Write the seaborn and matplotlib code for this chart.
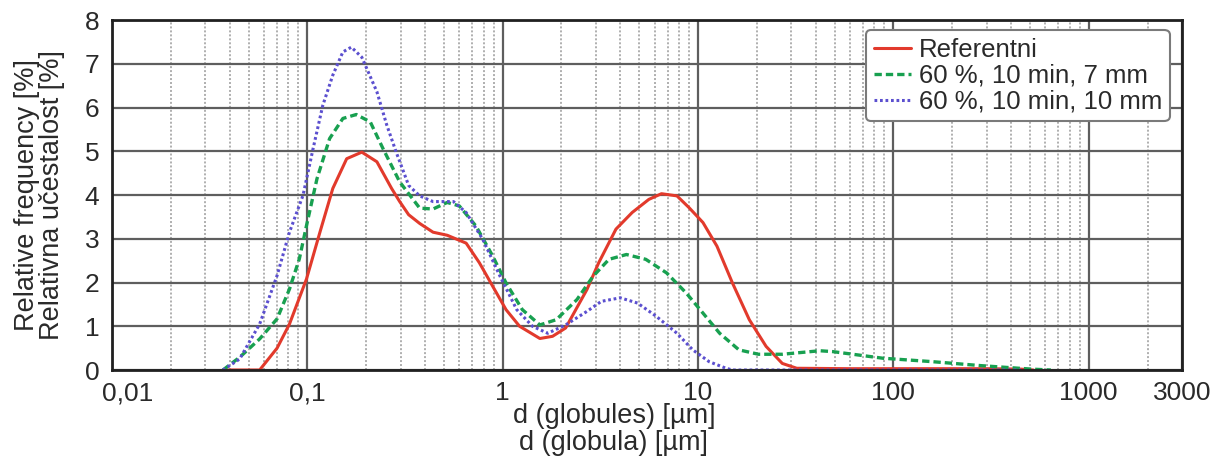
import numpy as np
import pandas as pd
import matplotlib
matplotlib.use("Agg")
import matplotlib.pyplot as plt
import matplotlib.transforms as mtransforms
from matplotlib.ticker import LogLocator, NullFormatter, FixedLocator, FixedFormatter
import seaborn as sns

# Droplet size distributions (diameter in µm, relative frequency in %)
d_ref = [0.037, 0.057, 0.070, 0.081, 0.099, 0.116, 0.135, 0.159, 0.19, 0.227, 0.27,
         0.297, 0.33, 0.376, 0.44, 0.52, 0.65, 0.76, 0.89, 1.04, 1.22, 1.55, 1.8,
         2.1, 2.7, 3.1, 3.8, 4.6, 5.6, 6.5, 7.8, 9.0, 10.6, 12.5, 15.0, 18.3, 22.3,
         27.0, 32.0, 60.0, 150.0, 300.0, 450.0, 520.0]
f_ref = [0.0, 0.0, 0.5, 1.05, 2.08, 3.15, 4.15, 4.83, 4.98, 4.76, 4.15,
         3.85, 3.55, 3.35, 3.15, 3.08, 2.9, 2.45, 1.91, 1.38, 1.0, 0.72, 0.77,
         0.96, 1.84, 2.45, 3.22, 3.6, 3.9, 4.03, 3.98, 3.71, 3.37, 2.83, 1.99, 1.15, 0.54,
         0.15, 0.04, 0.03, 0.03, 0.03, 0.02, 0.0]

d_7mm = [0.037, 0.045, 0.057, 0.070, 0.081, 0.091, 0.099, 0.112, 0.13, 0.152, 0.178,
         0.21, 0.244, 0.297, 0.376, 0.44, 0.52, 0.6, 0.73, 0.89, 1.04, 1.26, 1.55,
         1.88, 2.4, 2.9, 3.5, 4.3, 5.4, 6.9, 8.7, 10.6, 12.9, 16.2, 20.4, 27.0, 42.0,
         49.0, 88.0, 159.0, 280.0, 510.0, 640.0]
f_7mm = [0.0, 0.29, 0.71, 1.17, 1.85, 2.54, 3.3, 4.37, 5.29, 5.75, 5.84,
         5.67, 5.06, 4.3, 3.7, 3.68, 3.83, 3.75, 3.29, 2.6, 1.99, 1.38, 1.03,
         1.15, 1.61, 2.14, 2.53, 2.64, 2.53, 2.22, 1.76, 1.3, 0.84, 0.46, 0.36, 0.36, 0.44,
         0.42, 0.27, 0.19, 0.1, 0.02, 0.0]

d_10mm = [0.037, 0.045, 0.057, 0.070, 0.081, 0.095, 0.107, 0.12, 0.135, 0.152, 0.168,
          0.19, 0.227, 0.255, 0.285, 0.33, 0.376, 0.44, 0.56, 0.65, 0.79, 0.97, 1.18,
          1.42, 1.7, 2.1, 2.7, 3.2, 4.0, 4.9, 6.1, 7.8, 9.4, 11.4, 13.9, 15.0, 100.0, 450.0]
f_10mm = [0.0, 0.25, 1.05, 2.16, 3.15, 3.99, 5.06, 6.05, 6.74, 7.27, 7.38,
          7.15, 6.36, 5.6, 4.98, 4.22, 3.98, 3.85, 3.85, 3.6, 2.99, 2.14, 1.38,
          1.0, 0.84, 1.03, 1.34, 1.57, 1.65, 1.53, 1.23, 0.84, 0.46, 0.19, 0.04, 0.0, 0.0, 0.0]

series_names = ["Referentni", "60 %, 10 min, 7 mm", "60 %, 10 min, 10 mm"]
x_ticks = [0.01, 0.1, 1, 10, 100, 1000, 3000]
x_tick_labels = ["0,01", "0,1", "1", "10", "100", "1000", "3000"]
y_ticks = [0, 1, 2, 3, 4, 5, 6, 7, 8]

sns.set_theme(style="white")
plt.rcParams["font.family"] = ["Liberation Sans", "DejaVu Sans"]

fig = plt.figure(figsize=(12.2, 4.68), dpi=100)
ax = fig.add_axes([0.0918, 0.2094, 0.877, 0.7478])

styles = [
    dict(color="#e23a2c", linestyle="-", linewidth=2.2),
    dict(color="#18a050", linestyle=(0, (2.2, 1.2)), linewidth=2.4),
    dict(color="#5b4fcf", linestyle=(0, (0.9, 0.9)), linewidth=2.2),
]
for name, xs, ys, st in zip(series_names, [d_ref, d_7mm, d_10mm],
                             [f_ref, f_7mm, f_10mm], styles):
    df = pd.DataFrame({"d": xs, "f": ys})
    sns.lineplot(data=df, x="d", y="f", ax=ax, label=name, **st)

ax.set_xscale("log")
ax.set_xlim(0.01, 3000)
ax.set_ylim(0, 8)

ax.xaxis.set_major_locator(FixedLocator(x_ticks))
ax.xaxis.set_major_formatter(FixedFormatter(x_tick_labels))
ax.xaxis.set_minor_locator(LogLocator(base=10, subs=np.arange(2, 10)))
ax.xaxis.set_minor_formatter(NullFormatter())
ax.set_yticks(y_ticks)

ax.grid(which="major", axis="both", color="#5e5e5e", linewidth=1.6, linestyle="-")
ax.grid(which="minor", axis="x", color="#9a9a9a", linewidth=1.1, linestyle=(0, (1.3, 1.3)))
ax.set_axisbelow(True)

ax.tick_params(axis="both", which="both", length=0, labelsize=19, labelcolor="#2a2a2a")
ax.tick_params(axis="x", pad=8)
ax.tick_params(axis="y", pad=9)
for s in ax.spines.values():
    s.set_visible(True)
    s.set_color("#202020")
    s.set_linewidth(2.0)

# keep the first x label clear of the "0" on the y axis
fig.canvas.draw()
first = ax.get_xticklabels()[0]
first.set_transform(first.get_transform() +
                    mtransforms.ScaledTranslation(16 / 100, 0, fig.dpi_scale_trans))

ax.set_xlabel("d (globules) [µm]\nd (globula) [µm]", fontsize=19.5, color="#2a2a2a",
              linespacing=1.05)
ax.xaxis.set_label_coords(0.469, -0.095, transform=ax.transAxes)
ax.xaxis.label.set_va("top")
ax.set_ylabel("Relative frequency [%]\nRelativna učestalost [%]", fontsize=19.5,
              color="#2a2a2a", linespacing=0.95)
ax.yaxis.set_label_coords(-0.044, 0.5, transform=ax.transAxes)

leg = ax.legend(loc="upper right", bbox_to_anchor=(0.9885, 0.972), fontsize=18.5,
                frameon=True, fancybox=True, framealpha=1.0, edgecolor="#7a7a7a",
                handlelength=1.45, handletextpad=0.3, borderpad=0.3, labelspacing=0.08,
                borderaxespad=0.0)
leg.get_frame().set_linewidth(1.5)
for t in leg.get_texts():
    t.set_color("#2a2a2a")

fig.savefig("out.png", dpi=100, facecolor="white")
